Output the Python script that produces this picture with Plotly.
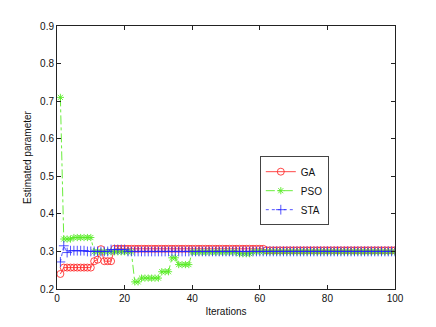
import plotly.graph_objects as go

iterations = list(range(1, 101))

ga = [
    0.240, 0.257, 0.257, 0.257, 0.257, 0.257, 0.257, 0.257, 0.257, 0.257,
    0.274, 0.278, 0.306, 0.274, 0.274, 0.274, 0.307, 0.307, 0.307, 0.307,
    0.307, 0.307, 0.307, 0.307, 0.307, 0.307, 0.307, 0.307, 0.307, 0.307,
    0.307, 0.307, 0.307, 0.307, 0.307, 0.307, 0.307, 0.307, 0.307, 0.307,
    0.307, 0.307, 0.307, 0.307, 0.307, 0.307, 0.307, 0.307, 0.307, 0.307,
    0.307, 0.307, 0.307, 0.307, 0.307, 0.307, 0.307, 0.307, 0.307, 0.307,
    0.307, 0.303, 0.303, 0.303, 0.303, 0.303, 0.303, 0.303, 0.303, 0.303,
    0.303, 0.303, 0.303, 0.303, 0.303, 0.303, 0.303, 0.303, 0.303, 0.303,
    0.303, 0.303, 0.303, 0.303, 0.303, 0.303, 0.303, 0.303, 0.303, 0.303,
    0.303, 0.303, 0.303, 0.303, 0.303, 0.303, 0.303, 0.303, 0.303, 0.303,
]

pso = [
    0.710, 0.333, 0.333, 0.333, 0.337, 0.337, 0.337, 0.337, 0.337, 0.337,
    0.299, 0.299, 0.299, 0.299, 0.299, 0.299, 0.299, 0.299, 0.299, 0.299,
    0.299, 0.299, 0.219, 0.219, 0.229, 0.229, 0.229, 0.229, 0.229, 0.229,
    0.246, 0.246, 0.246, 0.283, 0.283, 0.265, 0.265, 0.265, 0.265, 0.298,
    0.298, 0.298, 0.298, 0.298, 0.298, 0.298, 0.298, 0.298, 0.298, 0.298,
    0.298, 0.298, 0.298, 0.294, 0.294, 0.294, 0.294, 0.299, 0.299, 0.299,
    0.299, 0.299, 0.299, 0.299, 0.299, 0.299, 0.299, 0.299, 0.299, 0.299,
    0.299, 0.299, 0.299, 0.299, 0.299, 0.299, 0.299, 0.299, 0.299, 0.299,
    0.299, 0.299, 0.299, 0.299, 0.299, 0.299, 0.299, 0.299, 0.299, 0.299,
    0.299, 0.299, 0.299, 0.299, 0.299, 0.299, 0.299, 0.299, 0.299, 0.299,
]

sta = [
    0.272, 0.315, 0.297, 0.302, 0.302, 0.302, 0.302, 0.302, 0.300, 0.300,
    0.300, 0.300, 0.300, 0.300, 0.300, 0.305, 0.305, 0.305, 0.305, 0.305,
    0.300, 0.300, 0.300, 0.300, 0.300, 0.300, 0.300, 0.300, 0.300, 0.300,
    0.300, 0.300, 0.300, 0.300, 0.300, 0.300, 0.300, 0.300, 0.300, 0.300,
    0.300, 0.300, 0.300, 0.300, 0.300, 0.300, 0.300, 0.300, 0.300, 0.300,
    0.300, 0.300, 0.300, 0.300, 0.300, 0.300, 0.300, 0.300, 0.300, 0.300,
    0.300, 0.300, 0.300, 0.300, 0.300, 0.300, 0.300, 0.300, 0.300, 0.300,
    0.300, 0.300, 0.300, 0.300, 0.300, 0.300, 0.300, 0.300, 0.300, 0.300,
    0.300, 0.300, 0.300, 0.300, 0.300, 0.300, 0.300, 0.300, 0.300, 0.300,
    0.300, 0.300, 0.300, 0.300, 0.300, 0.300, 0.300, 0.300, 0.300, 0.300,
]

x_ticks = [0, 20, 40, 60, 80, 100]
y_ticks = [0.2, 0.3, 0.4, 0.5, 0.6, 0.7, 0.8, 0.9]

RED = "rgba(255,40,40,0.85)"
GREEN = "rgba(90,235,40,0.9)"
BLUE = "rgba(40,40,255,0.8)"
FONT = "Liberation Sans, Arial"

fig = go.Figure()
fig.add_trace(go.Scatter(
    x=iterations, y=ga, name="GA", mode="lines+markers",
    line=dict(color=RED, width=1),
    marker=dict(symbol="circle-open", size=7, color=RED, line=dict(width=1, color=RED)),
))
fig.add_trace(go.Scatter(
    x=iterations, y=pso, name="PSO", mode="lines+markers",
    line=dict(color=GREEN, width=1, dash="dashdot"),
    marker=dict(symbol="asterisk-open", size=6, color=GREEN, line=dict(width=1, color=GREEN)),
))
fig.add_trace(go.Scatter(
    x=iterations, y=sta, name="STA", mode="lines+markers",
    line=dict(color=BLUE, width=1, dash="dot"),
    marker=dict(symbol="cross-thin-open", size=7, color=BLUE, line=dict(width=1, color=BLUE)),
))

axis_common = dict(
    showgrid=False, zeroline=False, showline=True, linecolor="#222222", linewidth=1,
    mirror="ticks", ticks="inside", ticklen=4, tickcolor="#222222",
    tickfont=dict(family=FONT, size=10, color="#111111"),
)

fig.update_xaxes(range=[0, 100], tickvals=x_ticks, ticktext=[str(v) for v in x_ticks],
                 title=dict(text="Iterations", standoff=4,
                            font=dict(family=FONT, size=10, color="#111111")),
                 **axis_common)
fig.update_yaxes(range=[0.2, 0.9], tickvals=y_ticks, ticktext=[f"{v:.1f}" for v in y_ticks],
                 title=dict(text="Estimated parameter", standoff=6,
                            font=dict(family=FONT, size=10, color="#111111")),
                 **axis_common)

# page body has an 8px default margin; figure sized to fill the rest of the window
fig.update_layout(
    width=428, height=319,
    margin=dict(l=49, r=41, t=16, b=37),
    paper_bgcolor="white", plot_bgcolor="white",
    showlegend=True,
    legend=dict(x=0.60, y=0.505, xanchor="left", yanchor="top",
                bgcolor="white", bordercolor="#444444", borderwidth=1,
                font=dict(family=FONT, size=10, color="#111111"),
                itemwidth=30, tracegroupgap=0),
)

fig.write_html("out.html")
